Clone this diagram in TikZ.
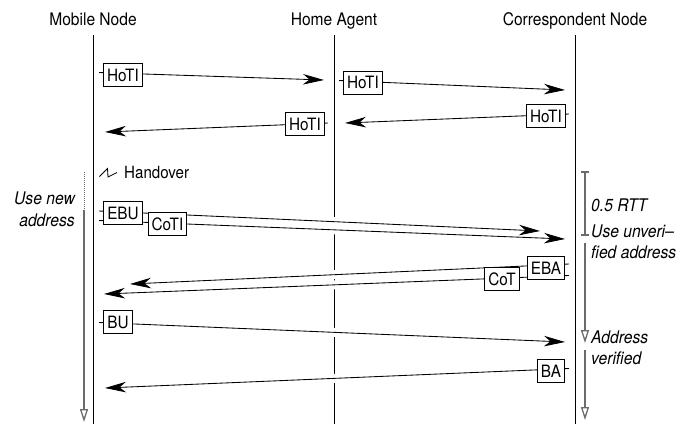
\documentclass[tikz,border=0pt]{standalone}
\usepackage{fontspec}
\setmainfont{TeX Gyre Heros}[FakeStretch=0.9]
\usetikzlibrary{arrows.meta}
\definecolor{sidegray}{gray}{0.42}
\tikzset{
  life/.style={line width=0.9pt},
  msg/.style={line width=0.85pt,-{Stealth[length=21pt,width=10.5pt,inset=6.5pt]}},
  halo/.style={white,line width=9pt},
  lbl/.style={draw,line width=0.85pt,fill=white,font=\fontsize{17}{20}\selectfont,inner xsep=3.5pt,inner ysep=0pt,minimum height=23pt},
  hdr/.style={font=\fontsize{17.3}{20}\selectfont,anchor=base},
  side/.style={draw=sidegray,line width=1.3pt},
  sidearrow/.style={side,-{Triangle[open,fill=white,length=13pt,width=8pt]}},
  note/.style={font=\fontsize{17.4}{21.5}\selectfont\itshape,inner sep=0pt},
}
\begin{document}
\begin{tikzpicture}[x=1pt,y=-1pt]
\useasboundingbox (0,0) rectangle (695,424);
% headers
\node[hdr] (hmn) at (93,25) {Mobile Node};
\node[hdr] (hha) at (334,25) {Home Agent};
\node[hdr] (hcn) at (575,25) {Correspondent Node};
% lifelines
\coordinate (mnt) at (93,35); \coordinate (mnb) at (93,424);
\coordinate (hat) at (334,35); \coordinate (hab) at (334,424);
\coordinate (cnt) at (575,35); \coordinate (cnb) at (575,424);
\draw[life] (mnt) -- (mnb);
\draw[life] (hat) -- (hab);
\draw[life] (cnt) -- (cnb);
% message end points
\coordinate (s1) at (99,72.5);   \coordinate (e1) at (324,80);
\coordinate (s2) at (339,80.5);  \coordinate (e2) at (565,90);
\coordinate (s3) at (569,114);   \coordinate (e3) at (345,123);
\coordinate (s4) at (328,123);   \coordinate (e4) at (105,132);
\coordinate (s5) at (99,211);    \coordinate (e5) at (540,231);
\coordinate (s6) at (99,220.5);  \coordinate (e6) at (565,239);
\coordinate (s7) at (569,264);   \coordinate (e7) at (130,284);
\coordinate (s8) at (569,275.5); \coordinate (e8) at (104,294);
\coordinate (s9) at (99,322.5);  \coordinate (e9) at (565,342);
\coordinate (s10) at (569,368.5); \coordinate (e10) at (105,388);
% halos where messages cross the Home Agent lifeline
\draw[halo] (s5) -- (e5);
\draw[halo] (s6) -- (e6);
\draw[halo] (s7) -- (e7);
\draw[halo] (s8) -- (e8);
\draw[halo] (s9) -- (e9);
\draw[halo] (s10) -- (e10);
% messages
\draw[msg] (s1) -- (e1);
\draw[msg] (s2) -- (e2);
\draw[msg] (s3) -- (e3);
\draw[msg] (s4) -- (e4);
\draw[msg] (s5) -- (e5);
\draw[msg] (s6) -- (e6);
\draw[msg] (s7) -- (e7);
\draw[msg] (s8) -- (e8);
\draw[msg] (s9) -- (e9);
\draw[msg] (s10) -- (e10);
% labels
\node[lbl] (b1) at (123,75) {HoTI};
\node[lbl] (b2) at (363,82.5) {HoTI};
\node[lbl] (b3) at (546,116) {HoTI};
\node[lbl] (b4) at (305,124) {HoTI};
\node[lbl] (b5) at (123,213) {EBU};
\node[lbl] (b6) at (167.5,224) {CoTI};
\node[lbl] (b7) at (546,268) {EBA};
\node[lbl] (b8) at (502,279) {CoT};
\node[lbl] (b9) at (118,322) {BU};
\node[lbl] (b10) at (551,371) {BA};
% handover
\draw[line width=0.85pt] (99.5,176.5) -- (107.5,168.5) -- (108,177) -- (117,172.5);
\node[font=\fontsize{16.8}{20}\selectfont,anchor=base west,inner sep=0pt] (hov) at (124,178.5) {Handover};
% mobile node side annotation
\draw[side,line width=1pt,dash pattern=on 1pt off 1pt] (84,172) -- (84,210);
\draw[sidearrow] (84,210) -- (84,422);
\node[note,align=right,anchor=base east] (unew) at (75,226) {Use new\\address};
% correspondent side annotations
\draw[side] (585,172) -- (585,235);
\draw[side] (581,172) -- (589,172);
\draw[side] (581,235) -- (589,235);
\node[note,anchor=base west] (rtt) at (591,211) {0.5 RTT};
\draw[sidearrow] (585,243) -- (585,343);
\node[note,align=left,anchor=base west] (unv) at (591,258.5) {Use unveri–\\fied address};
\draw[sidearrow] (585,350) -- (585,420);
\node[note,align=left,anchor=base west] (ver) at (591,364.5) {Address\\verified};
\end{tikzpicture}
\end{document}
